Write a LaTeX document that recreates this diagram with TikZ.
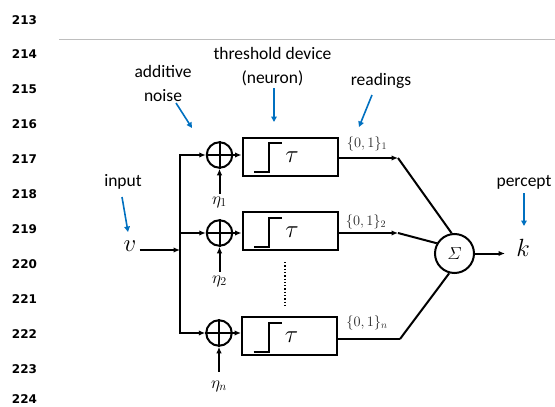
\documentclass[tikz,border=0pt]{standalone}
\usepackage{amsmath}
\usepackage{fontspec}
\newfontfamily\annotfont{Carlito}
\newfontfamily\lnumfont{DejaVu Sans}
\usetikzlibrary{arrows.meta}
\definecolor{noteblue}{RGB}{0,112,192}
\definecolor{rulegray}{RGB}{190,190,190}
\tikzset{
  wire/.style={line width=2pt},
  arr/.style={wire,-{Latex[length=6.5pt,width=5.5pt]}},
  sumc/.style={circle,draw,line width=2pt,minimum size=25.5pt,inner sep=0pt},
  thbox/.style={draw,line width=2pt,minimum width=95pt,minimum height=38pt,inner sep=0pt},
  stepline/.style={line width=2pt},
  note/.style={font=\annotfont\fontsize{17.5}{24}\selectfont,align=center,inner sep=0pt},
  bluearr/.style={draw=noteblue,line width=1.6pt,-{Triangle[length=5.5pt,width=5.5pt]}},
  lnum/.style={font=\lnumfont\bfseries\fontsize{12}{13}\selectfont,inner sep=0pt},
  bigmath/.style={font=\fontsize{30}{32}\selectfont,inner sep=0pt},
  etalbl/.style={font=\fontsize{17}{20}\selectfont,inner sep=0pt},
  taulbl/.style={font=\fontsize{25}{28}\selectfont,inner sep=0pt},
  readlbl/.style={font=\fontsize{14}{16}\selectfont,text=black!85,inner sep=0pt},
}
\begin{document}
\begin{tikzpicture}[x=1pt,y=-1pt]
\useasboundingbox (0,0) rectangle (555,407);

% line numbers
\foreach \n/\yy in {213/20,214/54,215/89,216/124,217/159,218/194,219/229,220/264,221/299,222/334,223/369,224/399.5}
  \node[lnum] (ln\n) at (24.5,\yy) {\n};

% gray rule
\coordinate (ruleL) at (59,39.5);
\coordinate (ruleR) at (555,39.5);
\draw[rulegray,line width=1pt] (ruleL) -- (ruleR);

% adders
\node[sumc] (c1) at (219.5,155) {};
\node[sumc] (c2) at (219.5,233) {};
\node[sumc] (c3) at (219,333) {};
\foreach \c in {c1,c2,c3}{
  \draw[wire] (\c.north) -- (\c.south);
  \draw[wire] (\c.west) -- (\c.east);
}

% threshold boxes
\node[thbox] (b1) at (290,156.5) {};
\node[thbox] (b2) at (290,231) {};
\node[thbox] (b3) at (289.5,336) {};
\foreach \b in {b1,b2,b3}{
  \draw[stepline] ([shift={(-36,15.5)}]\b.center) -- ++(15,0) -- ++(0,-29) -- ++(13,0);
  \node[taulbl] at ([shift={(2,1)}]\b.center) {$\tau$};
}

% input
\node[bigmath] (v) at (130,246) {$v$};
\coordinate (j1) at (180,155);
\coordinate (j2) at (180,233);
\coordinate (j3) at (180,333);
\coordinate (vin) at (180,250);
\draw[arr] ([xshift=3pt]v.east |- vin) -- (vin);
\draw[wire,{Latex[length=6.5pt,width=5.5pt]}-{Latex[length=6.5pt,width=5.5pt]}] (c1.west) -- (j1) -- (j3) -- (c3.west);
\draw[arr] (j2) -- (c2.west);

% adder -> box
\draw[arr] (c1.east) -- (c1.east -| b1.west);
\draw[arr] (c2.east) -- (c2.east -| b2.west);
\draw[arr] (c3.east) -- (c3.east -| b3.west);

% noise inputs
\node[etalbl] (e1) at (219.5,202) {$\eta_1$};
\node[etalbl] (e2) at (219.5,281) {$\eta_2$};
\node[etalbl] (e3) at (219,386) {$\eta_n$};
\draw[arr] ([shift={(0,25)}]c1.south) -- (c1.south);
\draw[arr] ([shift={(0,25)}]c2.south) -- (c2.south);
\draw[arr] ([shift={(0,25)}]c3.south) -- (c3.south);

% dots
\coordinate (dotT) at (285,262);
\coordinate (dotB) at (285,308);
\draw[line width=1.3pt,dotted] (dotT) -- (dotB);

% summation
\node[circle,draw,line width=2pt,minimum size=39pt,inner sep=0pt] (sig) at (454.5,253.5) {\fontsize{18}{20}\selectfont$\varSigma$};
\coordinate (o1) at (398,158);
\coordinate (o2) at (398,233);
\coordinate (o3) at (400,339);
\draw[arr] (b1.east |- o1) -- (o1);
\draw[arr] (b2.east |- o2) -- (o2);
\draw[wire] (b3.east |- o3) -- (o3);
\draw[wire] (o1) -- (sig.98);
\draw[wire] (o2) -- (sig.150);
\draw[wire] (o3) -- (sig.255);
\node[readlbl] (r1) at (367,144) {$\{0,1\}_1$};
\node[readlbl] (r2) at (366,222) {$\{0,1\}_2$};
\node[readlbl] (r3) at (367,323) {$\{0,1\}_n$};

% output
\node[bigmath] (k) at (523,248) {$k$};
\draw[arr] (sig.east) -- (sig.east -| 505,0);

% annotations
\node[note] (tinput) at (123,182) {input};
\coordinate (inS) at (122,197);
\coordinate (inE) at (128,232);
\draw[bluearr] (inS) -- (inE);

\node[note] (tnoise) at (163,83) {additive\\noise};
\coordinate (noS) at (176,103);
\coordinate (noE) at (192,128);
\draw[bluearr] (noS) -- (noE);

\node[note] (tthr) at (272.5,66.5) {threshold device\\(neuron)};
\coordinate (thS) at (274,88);
\coordinate (thE) at (274,122);
\draw[bluearr] (thS) -- (thE);

\node[note] (tread) at (381,81) {readings};
\coordinate (reS) at (372,95);
\coordinate (reE) at (359,127);
\draw[bluearr] (reS) -- (reE);

\node[note] (tperc) at (524,182) {percept};
\coordinate (peS) at (524,193);
\coordinate (peE) at (524,226);
\draw[bluearr] (peS) -- (peE);
\end{tikzpicture}
\end{document}
